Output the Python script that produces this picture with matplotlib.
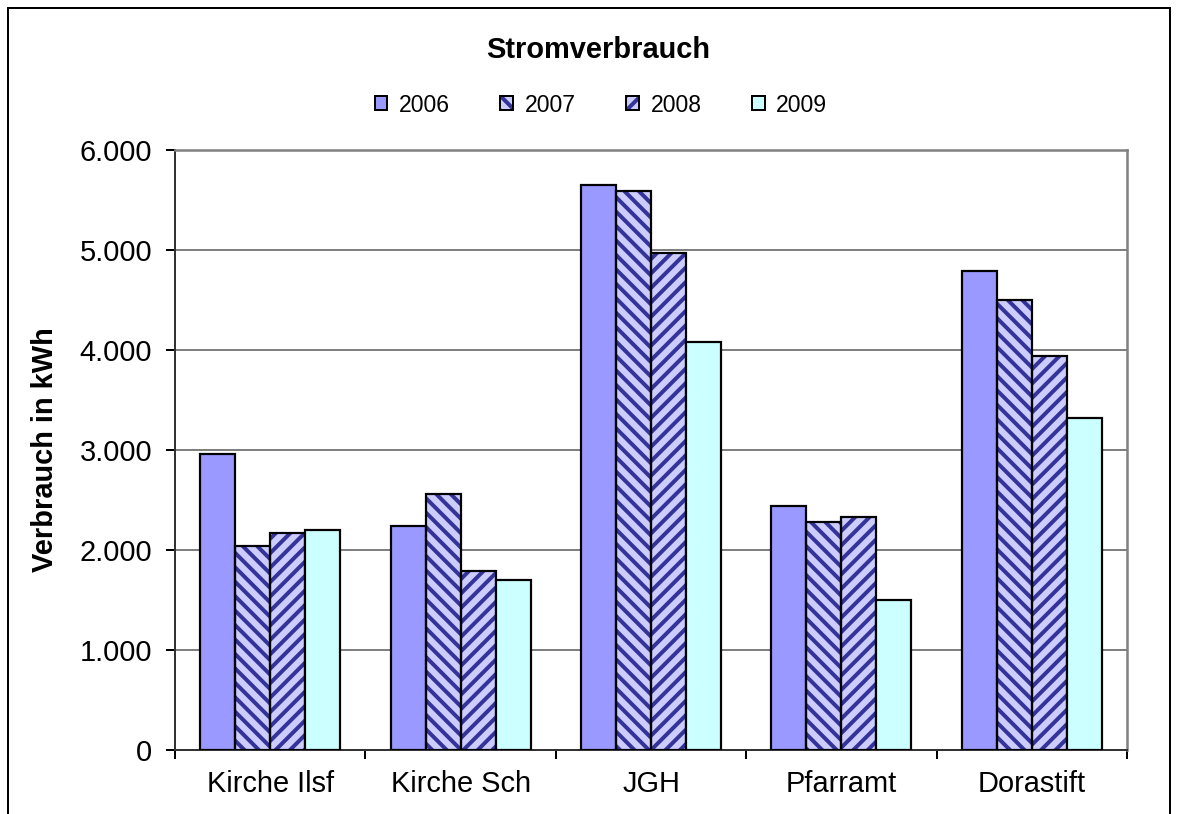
import numpy as np
import matplotlib
matplotlib.use('Agg')
import matplotlib.pyplot as plt
from matplotlib.patches import Patch, Rectangle
from matplotlib.legend_handler import HandlerTuple
from matplotlib.ticker import FuncFormatter, FixedLocator

# Daten
kategorien = ['Kirche Ilsf', 'Kirche Sch', 'JGH', 'Pfarramt', 'Dorastift']
jahre = ['2006', '2007', '2008', '2009']
v2006 = [2960, 2240, 5650, 2440, 4790]
v2007 = [2040, 2560, 5590, 2280, 4500]
v2008 = [2170, 1790, 4970, 2330, 3940]
v2009 = [2200, 1700, 4080, 1500, 3320]
werte = [v2006, v2007, v2008, v2009]

# Stile je Jahr
farben = ['#9999FF', '#CCCCFF', '#CCCCFF', '#CCFFFF']
schraffur = [None, '\\\\\\', '///', None]
schraffur_farbe = '#333399'

plt.rcParams['font.family'] = ['Liberation Sans', 'DejaVu Sans']
plt.rcParams['hatch.linewidth'] = 2.2

dpi = 130
px = 72 / dpi  # Punkte pro Pixel
fig = plt.figure(figsize=(1179 / dpi, 814 / dpi), dpi=dpi)
ax = fig.add_axes([175 / 1179, 64 / 814, 952 / 1179, 600 / 814])

x = np.arange(len(kategorien))
breite = 0.184
for i, (jahr, v) in enumerate(zip(jahre, werte)):
    pos = x + (i - 1.5) * breite
    if schraffur[i]:
        ax.bar(pos, v, breite, color=farben[i], edgecolor=schraffur_farbe,
               hatch=schraffur[i], linewidth=0, zorder=3)
    ax.bar(pos, v, breite, facecolor='none' if schraffur[i] else farben[i],
           edgecolor='black', linewidth=2.2 * px, zorder=4)

ax.set_xlim(-0.5, len(kategorien) - 0.5)
ax.set_ylim(0, 6000)
ax.set_yticks(np.arange(0, 6001, 1000))
ax.yaxis.set_major_formatter(FuncFormatter(lambda v, p: f'{v:,.0f}'.replace(',', '.')))
ax.yaxis.grid(True, color='#808080', linewidth=2 * px, zorder=0)
ax.set_axisbelow(True)

ax.set_xticks(x)
ax.set_xticklabels(kategorien)
ax.xaxis.set_minor_locator(FixedLocator(np.arange(-0.5, len(kategorien), 1)))
ax.tick_params(axis='x', which='major', length=0, pad=20 * px, labelsize=29 * px)
ax.tick_params(axis='x', which='minor', length=9 * px, width=2 * px, direction='out')
ax.tick_params(axis='y', length=9 * px, width=2 * px, pad=14 * px, labelsize=29 * px)

for s in ['top', 'right']:
    ax.spines[s].set_color('#808080')
    ax.spines[s].set_linewidth(2.5 * px)
for s in ['left', 'bottom']:
    ax.spines[s].set_color('#333333')
    ax.spines[s].set_linewidth(2 * px)

ax.set_ylabel('Verbrauch in kWh', fontsize=29 * px, fontweight='bold', labelpad=20 * px)

fig.text(598 / 1179, 1 - 50 / 814, 'Stromverbrauch', fontsize=29 * px,
         fontweight='bold', ha='center', va='center')

# Legende
handles = []
for i in range(4):
    if schraffur[i]:
        h = (Patch(facecolor=farben[i], edgecolor=schraffur_farbe, hatch=schraffur[i], linewidth=0),
             Patch(facecolor='none', edgecolor='black', linewidth=2 * px))
    else:
        h = Patch(facecolor=farben[i], edgecolor='black', linewidth=2 * px)
    handles.append(h)
fig.legend(handles, jahre, loc='center', bbox_to_anchor=(601 / 1179, 1 - 105 / 814),
           ncol=4, frameon=False, fontsize=23 * px, handlelength=0.55, handleheight=0.55,
           handletextpad=0.5, columnspacing=2.2,
           handler_map={tuple: HandlerTuple(ndivide=1, pad=0)})

# Rahmen des Diagrammbereichs
fig.patches.append(Rectangle((8 / 1179, -0.1), (1170 - 8) / 1179, 1.1 - 8 / 814,
                             transform=fig.transFigure, fill=False,
                             edgecolor='black', linewidth=2 * px))

fig.savefig('out.png', dpi=dpi)
